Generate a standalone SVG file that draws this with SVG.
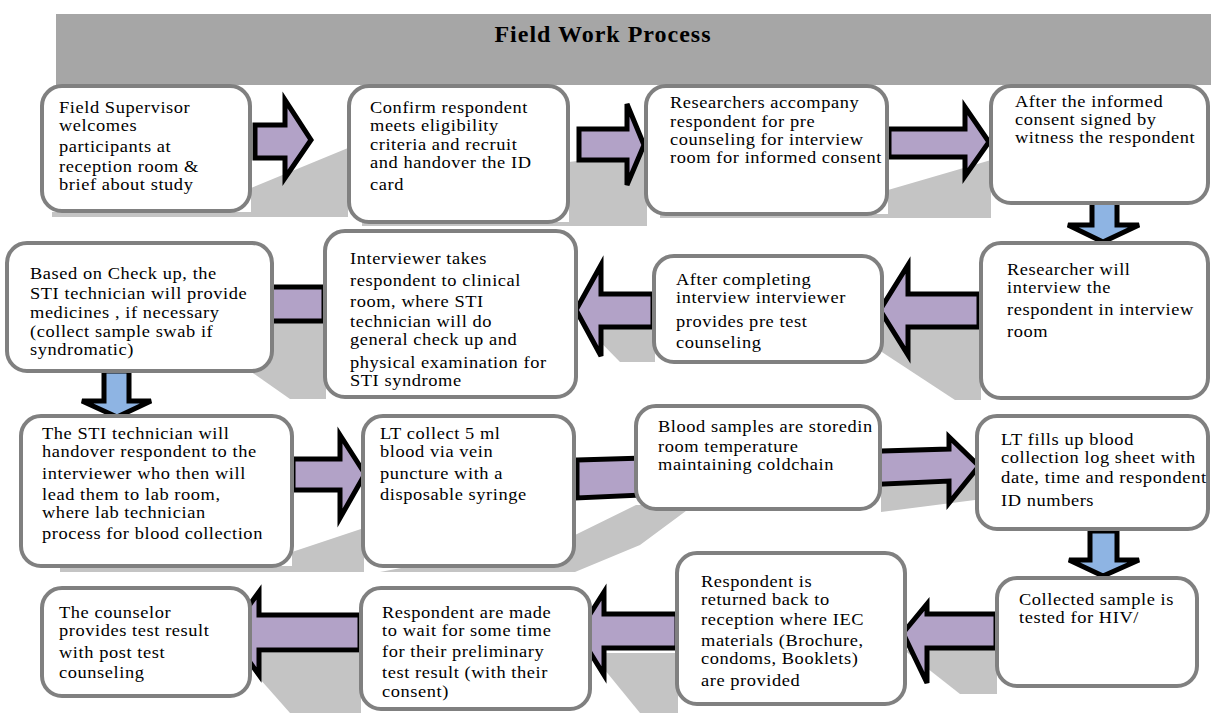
<svg xmlns="http://www.w3.org/2000/svg" width="1211" height="713" viewBox="0 0 1211 713">
<style>
.box{fill:#ffffff;stroke:#808080;stroke-width:4}
.t{font-family:"Liberation Serif","Times New Roman",serif;font-size:16px;letter-spacing:0.5px;fill:#000}
.title{font-family:"Liberation Serif","Times New Roman",serif;font-size:24px;font-weight:bold;letter-spacing:1px;fill:#000}
.pa{fill:#b2a2c7;stroke:#000;stroke-width:5;stroke-linejoin:miter}
.ba{fill:#8eb4e3;stroke:#000;stroke-width:5;stroke-linejoin:miter}
.sh{fill:#c4c4c4}
</style>
<rect width="1211" height="713" fill="#ffffff"/>
<g id="shadows">
<polygon class="sh" points="52,217 348,217 348,148 251,188 251,212 52,212"/>
<polygon class="sh" points="362,226 647,226 647,152 569,162 569,222 362,222"/>
<polygon class="sh" points="660,218 991,218 991,160 888,190 888,214 660,214"/>
<polygon class="sh" points="830,318 981,318 981,400 955,400"/>
<polygon class="sh" points="575,316 655,316 655,362 620,362"/>
<polygon class="sh" points="170,315 326,315 326,399 290,399"/>
<polygon class="sh" points="60,572 364,572 364,528 292,552 292,566 60,566"/>
<polygon class="sh" points="380,572 575,572 640,545 694,505 636,505 575,535"/>
<polygon class="sh" points="881,482 975,472 975,500 881,512"/>
<polygon class="sh" points="237,653 361,653 361,713 290,713"/>
<polygon class="sh" points="591,653 678,653 678,713 640,713"/>
<polygon class="sh" points="904,650 997,650 997,694 960,694"/>
</g>
<g id="title">
<rect x="56" y="14" width="1155" height="71" fill="#a6a6a6"/>
<text class="title" x="603" y="42" text-anchor="middle">Field Work Process</text>
</g>
<g id="connectors">
<path class="pa" d="M255,125 L285,125 L285,100 L311,140 L285,178 L285,158 L255,158 Z"/>
<path class="pa" d="M579,129 L627,129 L627,104 L644,145 L627,185 L627,160 L579,160 Z"/>
<path class="pa" d="M889,129 L965,129 L965,107 L989,142 L965,176 L965,157 L889,157 Z"/>
<path class="ba" d="M1092,200 L1117,200 L1117,225 L1139,225 L1103,242 L1068,225 L1092,225 Z"/>
<path class="pa" d="M979,294 L908,294 L908,265 L880,310 L908,355 L908,327 L979,327 Z"/>
<path class="pa" d="M653,294 L601,294 L601,265 L576,310 L601,356 L601,327 L653,327 Z"/>
<path class="pa" d="M324,287 L269,287 L269,265 L248,306 L269,351 L269,321 L324,321 Z"/>
<path class="ba" d="M104,371 L129,371 L129,401 L151,401 L117,417 L82,401 L104,401 Z"/>
<path class="pa" d="M293,459 L340,459 L340,435 L365,474 L340,518 L340,490 L293,490 Z"/>
<path class="pa" d="M577,460 L949,449 L949,437 L979,466 L949,503 L949,481 L577,498 Z"/>
<path class="ba" d="M1090,531 L1117,531 L1117,560 L1139,560 L1103,576 L1069,560 L1090,560 Z"/>
<path class="pa" d="M996,614 L927,614 L927,604 L903,633 L927,683 L927,648 L996,648 Z"/>
<path class="pa" d="M677,614 L604,614 L604,592 L578,633 L604,675 L604,648 L677,648 Z"/>
<path class="pa" d="M360,615 L259,615 L259,592 L229,633 L259,675 L259,650 L360,650 Z"/>
</g>
<g id="n1"><rect class="box" x="42" y="86" width="208" height="125" rx="20"/>
<text class="t" transform="translate(59,0) scale(1.15,1)"><tspan x="0" y="113">Field Supervisor</tspan><tspan x="0" y="131">welcomes</tspan><tspan x="0" y="152">participants at</tspan><tspan x="0" y="172">reception room &amp;</tspan><tspan x="0" y="190">brief about study</tspan></text></g>
<g id="n2"><rect class="box" x="349" y="86" width="219" height="136" rx="20"/>
<text class="t" transform="translate(370,0) scale(1.15,1)"><tspan x="0" y="113">Confirm respondent</tspan><tspan x="0" y="131">meets eligibility</tspan><tspan x="0" y="150">criteria and recruit</tspan><tspan x="0" y="168">and handover the ID</tspan><tspan x="0" y="190">card</tspan></text></g>
<g id="n3"><rect class="box" x="646" y="86" width="241" height="128" rx="20"/>
<text class="t" transform="translate(670,0) scale(1.15,1)"><tspan x="0" y="108">Researchers accompany</tspan><tspan x="0" y="127">respondent for pre</tspan><tspan x="0" y="145">counseling for interview</tspan><tspan x="0" y="163">room for informed consent</tspan></text></g>
<g id="n4"><rect class="box" x="991" y="86" width="217" height="117" rx="20"/>
<text class="t" transform="translate(1015,0) scale(1.15,1)"><tspan x="0" y="107">After the informed</tspan><tspan x="0" y="125">consent signed by</tspan><tspan x="0" y="143">witness the respondent</tspan></text></g>
<g id="n5"><rect class="box" x="981" y="243" width="227" height="155" rx="20"/>
<text class="t" transform="translate(1007,0) scale(1.15,1)"><tspan x="0" y="275">Researcher will</tspan><tspan x="0" y="293">interview the</tspan><tspan x="0" y="315">respondent in interview</tspan><tspan x="0" y="337">room</tspan></text></g>
<g id="n6"><rect class="box" x="654" y="256" width="228" height="106" rx="20"/>
<text class="t" transform="translate(676,0) scale(1.15,1)"><tspan x="0" y="285">After completing</tspan><tspan x="0" y="303">interview interviewer</tspan><tspan x="0" y="327">provides pre test</tspan><tspan x="0" y="348">counseling</tspan></text></g>
<g id="n7"><rect class="box" x="325" y="231" width="251" height="166" rx="20"/>
<text class="t" transform="translate(350,0) scale(1.15,1)"><tspan x="0" y="264">Interviewer takes</tspan><tspan x="0" y="286">respondent to clinical</tspan><tspan x="0" y="307">room, where STI</tspan><tspan x="0" y="327">technician will do</tspan><tspan x="0" y="345">general check up and</tspan><tspan x="0" y="368">physical examination for</tspan><tspan x="0" y="386">STI syndrome</tspan></text></g>
<g id="n8"><rect class="box" x="7" y="243" width="265" height="128" rx="20"/>
<text class="t" transform="translate(30,0) scale(1.15,1)"><tspan x="0" y="279">Based on Check up, the</tspan><tspan x="0" y="299">STI technician will provide</tspan><tspan x="0" y="318">medicines , if necessary</tspan><tspan x="0" y="337">(collect sample swab if</tspan><tspan x="0" y="355">syndromatic)</tspan></text></g>
<g id="n9"><rect class="box" x="21" y="416" width="271" height="150" rx="20"/>
<text class="t" transform="translate(42,0) scale(1.15,1)"><tspan x="0" y="439">The STI technician will</tspan><tspan x="0" y="457">handover respondent to the</tspan><tspan x="0" y="479">interviewer who then will</tspan><tspan x="0" y="500">lead them to lab room,</tspan><tspan x="0" y="518">where lab technician</tspan><tspan x="0" y="539">process for blood collection</tspan></text></g>
<g id="n10"><rect class="box" x="363" y="416" width="211" height="150" rx="20"/>
<text class="t" transform="translate(380,0) scale(1.15,1)"><tspan x="0" y="439">LT collect 5 ml</tspan><tspan x="0" y="457">blood via vein</tspan><tspan x="0" y="479">puncture with a</tspan><tspan x="0" y="500">disposable syringe</tspan></text></g>
<g id="n11"><rect class="box" x="636" y="406" width="244" height="103" rx="20"/>
<text class="t" transform="translate(658,0) scale(1.15,1)"><tspan x="0" y="432">Blood samples are storedin</tspan><tspan x="0" y="452">room temperature</tspan><tspan x="0" y="470">maintaining coldchain</tspan></text></g>
<g id="n12"><rect class="box" x="977" y="416" width="231" height="113" rx="20"/>
<text class="t" transform="translate(1001,0) scale(1.15,1)"><tspan x="0" y="445">LT fills up blood</tspan><tspan x="0" y="463">collection log sheet with</tspan><tspan x="0" y="483" textLength="179" lengthAdjust="spacingAndGlyphs">date, time and respondent</tspan><tspan x="0" y="506">ID numbers</tspan></text></g>
<g id="n13"><rect class="box" x="997" y="578" width="200" height="108" rx="20"/>
<text class="t" transform="translate(1019,0) scale(1.15,1)"><tspan x="0" y="605">Collected sample is</tspan><tspan x="0" y="623">tested for HIV/</tspan></text></g>
<g id="n14"><rect class="box" x="677" y="553" width="228" height="151" rx="20"/>
<text class="t" transform="translate(701,0) scale(1.15,1)"><tspan x="0" y="587">Respondent is</tspan><tspan x="0" y="605">returned back to</tspan><tspan x="0" y="625">reception where IEC</tspan><tspan x="0" y="646">materials (Brochure,</tspan><tspan x="0" y="664">condoms, Booklets)</tspan><tspan x="0" y="686">are provided</tspan></text></g>
<g id="n15"><rect class="box" x="361" y="588" width="229" height="121" rx="20"/>
<text class="t" transform="translate(382,0) scale(1.15,1)"><tspan x="0" y="618">Respondent are made</tspan><tspan x="0" y="636">to wait for some time</tspan><tspan x="0" y="657">for their preliminary</tspan><tspan x="0" y="678">test result (with their</tspan><tspan x="0" y="697">consent)</tspan></text></g>
<g id="n16"><rect class="box" x="42" y="588" width="208" height="108" rx="20"/>
<text class="t" transform="translate(59,0) scale(1.15,1)"><tspan x="0" y="618">The counselor</tspan><tspan x="0" y="636">provides test result</tspan><tspan x="0" y="658">with post test</tspan><tspan x="0" y="678">counseling</tspan></text></g>
</svg>
